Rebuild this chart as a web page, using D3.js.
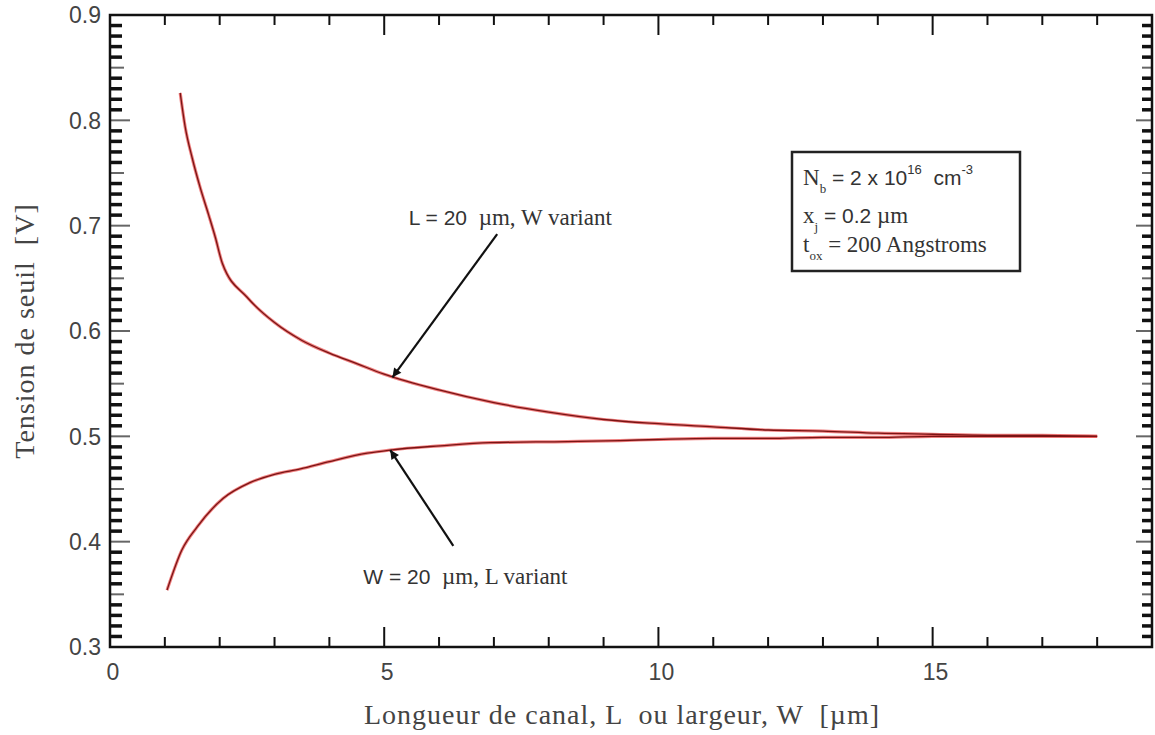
<!DOCTYPE html>
<html lang="fr">
<head>
<meta charset="UTF-8">
<title>Tension de seuil</title>
<style>
  body { margin: 0; background: #fff; }
  svg { display: block; }
</style>
</head>
<body>
<svg></svg>
<script src="https://d3js.org/d3.v7.min.js"></script>
<script>

// Data

const upperX = [1.28, 1.37, 1.5, 1.64, 1.8, 1.92, 2.05, 2.5, 3, 3.5, 4, 4.5, 5, 6, 7, 8, 9, 10, 11, 12, 13, 14, 15, 16, 17, 18];
const upperY = [0.826, 0.794, 0.764, 0.737, 0.710, 0.689, 0.664, 0.632, 0.608, 0.591, 0.579, 0.569, 0.559, 0.544, 0.532, 0.523, 0.516, 0.512, 0.509, 0.506, 0.505, 0.503, 0.502, 0.501, 0.501, 0.5];

const lowerX = [1.04, 1.31, 1.59, 2.06, 2.55, 3.0, 3.47, 4.0, 4.69, 5.11, 6.02, 6.93, 8.34, 9.3, 10, 11, 12, 13, 14, 15, 16, 17, 18];
const lowerY = [0.354, 0.392, 0.414, 0.441, 0.456, 0.464, 0.469, 0.476, 0.484, 0.487, 0.491, 0.494, 0.495, 0.496, 0.497, 0.498, 0.498, 0.499, 0.499, 0.5, 0.5, 0.5, 0.5];

const xTickLabels = [0, 5, 10, 15];
const yTickLabels = [0.3, 0.4, 0.5, 0.6, 0.7, 0.8, 0.9];

// Annotations (data coordinates): text centre, arrow start, arrow tip
const notes = [
  { lead: "L = 20  ", rest: "\u00b5m, W variant", tx: 7.3, ty: 0.708, x1: 7.06, y1: 0.692, x2: 5.15, y2: 0.556 },
  { lead: "W = 20  ", rest: "\u00b5m, L variant", tx: 6.48, ty: 0.367, x1: 6.26, y1: 0.396, x2: 5.11, y2: 0.487 }
];

// Layout

const width = 1155, height = 735;
const mLeft = 110, mRight = 1152, mTop = 15, mBottom = 647;

const svg = d3.select("svg").attr("width", width).attr("height", height);

const x = d3.scaleLinear().domain([0, 19]).range([mLeft, mRight]);
const y = d3.scaleLinear().domain([0.3, 0.9]).range([mBottom, mTop]);

const SANS = "'Liberation Sans', Arial, sans-serif";
const SERIF = "'Liberation Serif', 'Times New Roman', serif";

// Ticks

const xMinor = d3.range(1, 19);
const yMinor = d3.range(31, 90).map(d => d / 100);

const tickG = svg.append("g").attr("stroke", "#111");

// bottom + top
tickG.append("g").selectAll("line").data(xMinor).join("line")
  .attr("x1", d => x(d)).attr("x2", d => x(d))
  .attr("y1", mBottom).attr("y2", d => mBottom - (d % 5 === 0 ? 20 : 10))
  .attr("stroke-width", 2);
tickG.append("g").selectAll("line").data(xMinor).join("line")
  .attr("x1", d => x(d)).attr("x2", d => x(d))
  .attr("y1", mTop).attr("y2", d => mTop + (d % 5 === 0 ? 20 : 10))
  .attr("stroke-width", 2);

// left + right
const isMajor = d => Math.round(d * 100) % 10 === 0;
const isMid = d => Math.round(d * 100) % 5 === 0;
tickG.append("g").selectAll("line").data(yMinor).join("line")
  .attr("x1", mLeft).attr("x2", d => mLeft + (isMajor(d) ? 20 : isMid(d) ? 14 : 12))
  .attr("y1", d => y(d)).attr("y2", d => y(d))
  .attr("stroke", d => isMid(d) ? "#666" : "#111")
  .attr("stroke-width", d => isMid(d) ? 2 : 3.5);
tickG.append("g").selectAll("line").data(yMinor).join("line")
  .attr("x1", mRight).attr("x2", d => mRight - (isMajor(d) ? 16 : 10))
  .attr("y1", d => y(d)).attr("y2", d => y(d))
  .attr("stroke", d => isMid(d) ? "#666" : "#111")
  .attr("stroke-width", d => isMid(d) ? 2 : 3.5);

// Frame

svg.append("rect")
  .attr("x", mLeft).attr("y", mTop)
  .attr("width", mRight - mLeft).attr("height", mBottom - mTop)
  .attr("fill", "none").attr("stroke", "#111").attr("stroke-width", 2.5);

// Tick labels

svg.append("g").selectAll("text").data(xTickLabels).join("text")
  .attr("x", d => x(d) + 3).attr("y", mBottom + 33)
  .attr("text-anchor", "middle")
  .attr("font-family", SANS).attr("font-size", 23).attr("fill", "#444")
  .text(d => d);

svg.append("g").selectAll("text").data(yTickLabels).join("text")
  .attr("x", mLeft - 9).attr("y", d => y(d)).attr("dy", "0.36em")
  .attr("text-anchor", "end")
  .attr("font-family", SANS).attr("font-size", 23).attr("fill", "#444")
  .text(d => d.toFixed(1));

// Axis titles

svg.append("text")
  .attr("x", 622).attr("y", 724)
  .attr("text-anchor", "middle")
  .attr("font-family", SERIF).attr("font-size", 28).attr("letter-spacing", 1).attr("fill", "#444")
  .attr("xml:space", "preserve")
  .text("Longueur de canal, L  ou largeur, W  [\u00b5m]");

svg.append("text")
  .attr("transform", `translate(34, ${(mTop + mBottom) / 2}) rotate(-90)`)
  .attr("text-anchor", "middle")
  .attr("font-family", SERIF).attr("font-size", 28).attr("letter-spacing", 1).attr("fill", "#444")
  .attr("xml:space", "preserve")
  .text("Tension de seuil  [V]");

// Curves

const line = d3.line().x(d => x(d[0])).y(d => y(d[1])).curve(d3.curveMonotoneX);
const series = [d3.zip(upperX, upperY), d3.zip(lowerX, lowerY)];

svg.append("g").selectAll("path").data(series).join("path")
  .attr("d", line).attr("fill", "none")
  .attr("stroke", "#e84a4a").attr("stroke-opacity", 0.7).attr("stroke-width", 3.2);
svg.append("g").selectAll("path").data(series).join("path")
  .attr("d", line).attr("fill", "none")
  .attr("stroke", "#7a1414").attr("stroke-width", 1.3);

// Annotations

svg.append("defs").append("marker")
  .attr("id", "head").attr("viewBox", "0 0 10 10")
  .attr("refX", 10).attr("refY", 5)
  .attr("markerWidth", 17).attr("markerHeight", 9)
  .attr("markerUnits", "userSpaceOnUse")
  .attr("orient", "auto")
  .append("path").attr("d", "M0,0 L10,5 L0,10 Z").attr("fill", "#111");

svg.append("g").selectAll("line").data(notes).join("line")
  .attr("x1", d => x(d.x1)).attr("y1", d => y(d.y1))
  .attr("x2", d => x(d.x2)).attr("y2", d => y(d.y2))
  .attr("stroke", "#111").attr("stroke-width", 2.2)
  .attr("marker-end", "url(#head)");

const noteText = svg.append("g").selectAll("text").data(notes).join("text")
  .attr("x", d => x(d.tx)).attr("y", d => y(d.ty)).attr("dy", "0.35em")
  .attr("text-anchor", "middle")
  .attr("font-size", 23).attr("fill", "#333")
  .attr("xml:space", "preserve");
noteText.append("tspan").attr("font-family", SANS).attr("font-size", 21).text(d => d.lead);
noteText.append("tspan").attr("font-family", SERIF).text(d => d.rest);

// Parameter box

const box = svg.append("g");
box.append("rect")
  .attr("x", 792).attr("y", 152).attr("width", 228).attr("height", 119)
  .attr("fill", "#fff").attr("stroke", "#222").attr("stroke-width", 2.5);

// [text, position (0 normal, 1 sub, -1 sup), font]
const boxLines = [
  [["N", 0, SERIF], ["b", 1, SERIF], [" = 2 x 10", 0, SANS], ["16", -1, SANS], ["  cm", 0, SANS], ["-3", -1, SANS]],
  [["x", 0, SERIF], ["j", 1, SERIF], [" = 0.2 ", 0, SANS], ["\u00b5m", 0, SERIF]],
  [["t", 0, SERIF], ["ox", 1, SERIF], [" = 200 Angstroms", 0, SERIF]]
];
const boxY = [185, 223, 252];

boxLines.forEach((parts, i) => {
  const t = box.append("text")
    .attr("x", 803).attr("y", boxY[i])
    .attr("fill", "#333")
    .attr("xml:space", "preserve");
  let prev = 0;
  parts.forEach(([s, pos, fam]) => {
    const off = pos === 1 ? 8 : pos === -1 ? -11 : 0;
    t.append("tspan")
      .attr("dy", off - prev)
      .attr("font-family", fam)
      .attr("font-size", pos === 0 ? (fam === SANS ? 21 : 23) : 13)
      .text(s);
    prev = off;
  });
});

</script>
</body>
</html>
